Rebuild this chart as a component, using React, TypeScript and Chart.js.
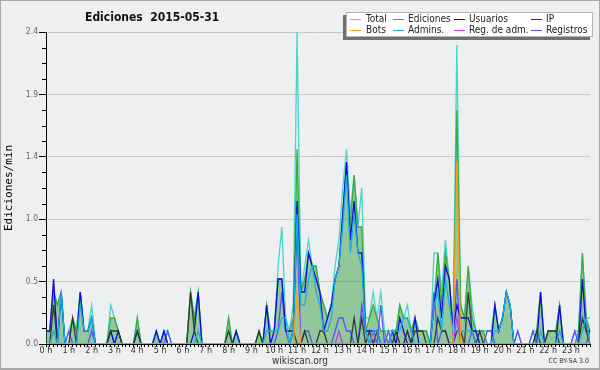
import React, { useEffect, useRef } from "react";
import { Chart, registerables } from "chart.js";

Chart.register(...registerables);

// ---------- data (edits per minute, 10-minute slots, 6 per hour) ----------
const slots: string[] = [];
for (let h = 0; h < 24; h++) {
  for (let m = 0; m < 60; m += 10) slots.push(`${h}:${String(m).padStart(2, "0")}`);
}

const hourLabels = [
  "0 h", "1 h", "2 h", "3 h", "4 h", "5 h", "6 h", "7 h", "8 h", "9 h", "10 h", "11 h",
  "12 h", "13 h", "14 h", "15 h", "16 h", "17 h", "18 h", "19 h", "20 h", "21 h", "22 h", "23 h",
];

const yTickValues = [
  0, 0.12, 0.24, 0.36, 0.48, 0.6, 0.72, 0.84, 0.96, 1.08, 1.2,
  1.32, 1.44, 1.56, 1.68, 1.8, 1.92, 2.04, 2.16, 2.28, 2.4,
];

const total = [
  0.1, 0.1, 0.4, 0.3, 0.4, 0, 0.1, 0.2, 0.1, 0.4, 0.1, 0.1,
  0.3, 0, 0, 0, 0, 0.3, 0.2, 0.1, 0, 0, 0, 0,
  0.2, 0, 0, 0, 0, 0.1, 0, 0.1, 0.1, 0, 0, 0,
  0, 0, 0.4, 0.2, 0.4, 0, 0, 0, 0, 0, 0, 0,
  0.2, 0, 0.1, 0, 0, 0, 0, 0, 0.1, 0, 0.3, 0.1,
  0.1, 0.6, 0.9, 0.2, 0.1, 0.3, 2.4, 0.4, 0.6, 0.8, 0.6, 0.6,
  0.4, 0.3, 0.2, 0.3, 0.6, 0.8, 1.2, 1.5, 1.0, 1.3, 0.9, 1.2,
  0.2, 0.2, 0.4, 0.2, 0.4, 0.1, 0.1, 0.1, 0.1, 0.3, 0.2, 0.3,
  0.1, 0.2, 0.1, 0.1, 0.1, 0, 0.7, 0.7, 0.4, 0.8, 0.5, 0.1,
  2.3, 0.3, 0.2, 0.6, 0.3, 0.1, 0.1, 0.1, 0.1, 0.1, 0.3, 0.1,
  0.2, 0.4, 0.3, 0, 0.1, 0, 0, 0, 0.1, 0.1, 0.4, 0,
  0.1, 0.1, 0.1, 0.3, 0, 0, 0, 0.1, 0.1, 0.7, 0.2, 0.2,
];

const ediciones = [
  0.1, 0.1, 0.4, 0.3, 0.4, 0, 0, 0.2, 0.1, 0.4, 0.1, 0.1,
  0.2, 0, 0, 0, 0, 0.2, 0.2, 0.1, 0, 0, 0, 0,
  0.2, 0, 0, 0, 0, 0.1, 0, 0.1, 0, 0, 0, 0,
  0, 0, 0.4, 0.2, 0.4, 0, 0, 0, 0, 0, 0, 0,
  0.2, 0, 0.1, 0, 0, 0, 0, 0, 0.1, 0, 0.3, 0.1,
  0.1, 0.5, 0.5, 0.1, 0.1, 0.2, 1.5, 0.4, 0.5, 0.7, 0.6, 0.6,
  0.4, 0.3, 0.2, 0.3, 0.5, 0.6, 1.0, 1.4, 0.9, 1.3, 0.9, 0.9,
  0.1, 0.2, 0.3, 0.2, 0.1, 0.1, 0, 0.1, 0.1, 0.3, 0.2, 0.2,
  0.1, 0.2, 0.1, 0.1, 0.1, 0, 0.3, 0.7, 0.3, 0.7, 0.5, 0.1,
  1.8, 0.3, 0.2, 0.6, 0.2, 0.1, 0.1, 0.1, 0, 0, 0.3, 0.1,
  0.2, 0.4, 0.3, 0, 0, 0, 0, 0, 0, 0.1, 0.4, 0,
  0.1, 0.1, 0.1, 0.3, 0, 0, 0, 0, 0.1, 0.7, 0.2, 0.1,
];

const usuarios = [
  0.1, 0.1, 0.5, 0, 0.4, 0, 0, 0, 0, 0.4, 0.1, 0.1,
  0.2, 0, 0, 0, 0, 0.1, 0, 0.1, 0, 0, 0, 0,
  0.1, 0, 0, 0, 0, 0.1, 0, 0.1, 0, 0, 0, 0,
  0, 0, 0, 0.1, 0.4, 0, 0, 0, 0, 0, 0, 0,
  0, 0, 0.1, 0, 0, 0, 0, 0, 0, 0, 0.3, 0,
  0.1, 0.5, 0.5, 0.1, 0.1, 0.1, 1.1, 0.4, 0.4, 0.7, 0.6, 0.5,
  0.4, 0.1, 0.2, 0.3, 0.5, 0.6, 1.0, 1.4, 0.8, 1.1, 0.7, 0.7,
  0.1, 0.1, 0.1, 0.1, 0, 0, 0, 0.1, 0, 0.2, 0.1, 0,
  0, 0.2, 0, 0, 0, 0, 0.3, 0.5, 0.2, 0.6, 0.5, 0.1,
  0.3, 0.2, 0.2, 0.2, 0.1, 0.1, 0, 0, 0, 0, 0.3, 0.1,
  0.2, 0.4, 0.3, 0, 0, 0, 0, 0, 0, 0, 0.4, 0,
  0, 0, 0, 0.3, 0, 0, 0, 0, 0, 0.5, 0.1, 0.1,
];

const ip = [
  0, 0, 0.3, 0, 0, 0, 0, 0.2, 0, 0, 0, 0,
  0, 0, 0, 0, 0, 0.1, 0.1, 0.1, 0, 0, 0, 0,
  0.1, 0, 0, 0, 0, 0, 0, 0, 0, 0, 0, 0,
  0, 0, 0.4, 0.1, 0, 0, 0, 0, 0, 0, 0, 0,
  0.1, 0, 0, 0, 0, 0, 0, 0, 0.1, 0, 0, 0,
  0, 0, 0, 0, 0, 0.1, 0, 0, 0.1, 0, 0, 0,
  0.1, 0.1, 0, 0, 0, 0, 0, 0, 0, 0.2, 0, 0.2,
  0, 0.1, 0, 0.1, 0, 0, 0, 0, 0.1, 0, 0, 0.1,
  0, 0.1, 0.1, 0.1, 0, 0, 0, 0.2, 0.1, 0.1, 0, 0,
  0.1, 0.1, 0, 0.4, 0.1, 0, 0.1, 0, 0, 0, 0, 0,
  0, 0, 0, 0, 0, 0, 0, 0, 0, 0.1, 0, 0,
  0.1, 0.1, 0.1, 0, 0, 0, 0, 0, 0, 0.2, 0.1, 0,
];

const bots = [
  0, 0, 0, 0, 0, 0, 0, 0, 0, 0, 0, 0,
  0, 0, 0, 0, 0, 0, 0, 0, 0, 0, 0, 0,
  0, 0, 0, 0, 0, 0, 0, 0, 0, 0, 0, 0,
  0, 0, 0, 0, 0, 0, 0, 0, 0, 0, 0, 0,
  0, 0, 0, 0, 0, 0, 0, 0, 0, 0, 0, 0,
  0, 0, 0, 0, 0, 0, 0.4, 0, 0, 0, 0, 0,
  0, 0, 0, 0, 0, 0, 0, 0, 0, 0, 0, 0,
  0, 0, 0, 0, 0, 0, 0, 0, 0, 0, 0, 0,
  0, 0, 0, 0, 0, 0, 0, 0, 0, 0, 0, 0,
  1.4, 0, 0, 0, 0, 0, 0, 0, 0, 0, 0, 0,
  0, 0, 0, 0, 0, 0, 0, 0, 0, 0, 0, 0,
  0, 0, 0, 0, 0, 0, 0, 0, 0, 0, 0, 0,
];

const admins = [
  0, 0, 0.1, 0, 0.4, 0, 0, 0, 0, 0.3, 0.1, 0.1,
  0.2, 0, 0, 0, 0, 0, 0, 0, 0, 0, 0, 0,
  0, 0, 0, 0, 0, 0, 0, 0, 0, 0, 0, 0,
  0, 0, 0, 0, 0.1, 0, 0, 0, 0, 0, 0, 0,
  0, 0, 0, 0, 0, 0, 0, 0, 0, 0, 0.1, 0.1,
  0.1, 0.1, 0.2, 0.2, 0, 0.1, 1.0, 0.3, 0.3, 0.5, 0.6, 0.4,
  0.3, 0.1, 0.1, 0.2, 0.5, 0.6, 0.9, 1.3, 0.7, 1.0, 0.7, 0.6,
  0.1, 0, 0.1, 0.1, 0, 0, 0, 0.1, 0.1, 0.1, 0.2, 0.2,
  0.1, 0, 0, 0, 0, 0, 0.3, 0.4, 0.1, 0.5, 0.3, 0.1,
  0.1, 0.1, 0.1, 0.1, 0.1, 0, 0, 0, 0, 0, 0.1, 0.1,
  0.2, 0.4, 0.3, 0, 0, 0, 0, 0, 0, 0, 0.1, 0,
  0, 0, 0, 0.1, 0, 0, 0, 0, 0, 0.1, 0.2, 0,
];

const regAdm = [
  0, 0, 0, 0, 0, 0, 0, 0, 0, 0, 0, 0,
  0, 0, 0, 0, 0, 0, 0, 0, 0, 0, 0, 0,
  0, 0, 0, 0, 0, 0, 0, 0, 0, 0, 0, 0,
  0, 0, 0, 0, 0, 0, 0, 0, 0, 0, 0, 0,
  0, 0, 0, 0, 0, 0, 0, 0, 0, 0, 0, 0,
  0, 0, 0, 0, 0, 0, 0, 0, 0, 0, 0, 0,
  0, 0, 0, 0, 0, 0.1, 0, 0, 0, 0, 0, 0,
  0, 0, 0.1, 0, 0, 0, 0, 0, 0, 0, 0, 0,
  0, 0, 0, 0, 0, 0, 0, 0, 0, 0, 0, 0,
  0.2, 0, 0, 0, 0, 0, 0, 0, 0, 0, 0, 0,
  0, 0, 0, 0, 0, 0, 0, 0, 0, 0, 0, 0,
  0, 0, 0, 0, 0, 0, 0, 0, 0, 0, 0, 0,
];

const registros = [
  0, 0, 0, 0, 0, 0, 0.1, 0, 0, 0, 0, 0,
  0.1, 0, 0, 0, 0, 0.1, 0, 0, 0, 0, 0, 0,
  0, 0, 0, 0, 0, 0, 0, 0, 0.1, 0, 0, 0,
  0, 0, 0, 0, 0, 0, 0, 0, 0, 0, 0, 0,
  0, 0, 0, 0, 0, 0, 0, 0, 0, 0, 0, 0,
  0, 0.1, 0.4, 0.1, 0, 0.1, 0.9, 0, 0.1, 0.1, 0, 0,
  0, 0, 0, 0, 0.1, 0.2, 0.2, 0.1, 0.1, 0, 0, 0.3,
  0.1, 0, 0.1, 0, 0.3, 0, 0.1, 0, 0, 0, 0, 0.1,
  0, 0, 0, 0, 0, 0, 0.4, 0, 0.1, 0.1, 0, 0,
  0.5, 0, 0, 0, 0.1, 0, 0, 0, 0.1, 0.1, 0, 0,
  0, 0, 0, 0, 0.1, 0, 0, 0, 0.1, 0, 0, 0,
  0, 0, 0, 0, 0, 0, 0, 0.1, 0, 0, 0, 0.1,
];

// ---------- styling ----------
const BG = "#eeeff0";
const SANS = '"DejaVu Sans Condensed", "Liberation Sans", "DejaVu Sans", sans-serif';
const MONO = '"DejaVu Sans Mono", monospace';

const COLORS = {
  total: "#45d6c8",
  ediciones: "#3aae3a",
  edicionesFill: "rgba(30,150,40,0.44)",
  usuarios: "#0a0ae8",
  ip: "#323832",
  bots: "#ff9a1a",
  admins: "#18b0e4",
  regAdm: "#c838ec",
  registros: "#5252ff",
};

const isMajor = (v: number) => Math.round(v * 100) % 48 === 0;

const minorTicks = {
  id: "minorTicks",
  afterDraw(chart: any) {
    const y = chart.scales.y;
    const ctx = chart.ctx;
    ctx.save();
    ctx.strokeStyle = "#000";
    ctx.lineWidth = 1;
    yTickValues.forEach((v) => {
      if (isMajor(v)) return;
      const py = Math.round(y.getPixelForValue(v)) + 0.5;
      ctx.beginPath();
      ctx.moveTo(y.right - 4, py);
      ctx.lineTo(y.right, py);
      ctx.stroke();
    });
    ctx.restore();
  },
};

const legendItems = [
  { label: "Total", color: COLORS.total, sx: 350, tx: 366, row: 0 },
  { label: "Ediciones", color: COLORS.ediciones, sx: 393, tx: 408, row: 0 },
  { label: "Usuarios", color: COLORS.usuarios, sx: 454, tx: 469, row: 0 },
  { label: "IP", color: COLORS.ip, sx: 531, tx: 546, row: 0 },
  { label: "Bots", color: COLORS.bots, sx: 350, tx: 366, row: 1 },
  { label: "Admins.", color: COLORS.admins, sx: 393, tx: 408, row: 1 },
  { label: "Reg. de adm.", color: COLORS.regAdm, sx: 454, tx: 469, row: 1 },
  { label: "Registros", color: COLORS.registros, sx: 531, tx: 546, row: 1 },
];

function line(label: string, data: number[], color: string, order: number, extra: any = {}) {
  return {
    label,
    data,
    borderColor: color,
    backgroundColor: color,
    borderWidth: 1.3,
    pointRadius: 0,
    pointHoverRadius: 0,
    tension: 0,
    fill: false,
    order,
    ...extra,
  };
}

export default function App() {
  const ref = useRef<HTMLCanvasElement>(null);

  useEffect(() => {
    const canvas = ref.current;
    if (!canvas) return;
    const chart = new Chart(canvas, {
      type: "line",
      data: {
        labels: slots,
        datasets: [
          line("Bots", bots, COLORS.bots, 1),
          line("Admins.", admins, COLORS.admins, 2),
          line("Reg. de adm.", regAdm, COLORS.regAdm, 3),
          line("IP", ip, COLORS.ip, 4),
          line("Usuarios", usuarios, COLORS.usuarios, 5),
          line("Registros", registros, COLORS.registros, 6),
          line("Ediciones", ediciones, COLORS.ediciones, 7, {
            fill: "origin",
            backgroundColor: COLORS.edicionesFill,
          }),
          line("Total", total, COLORS.total, 8),
        ],
      },
      options: {
        responsive: false,
        animation: false,
        devicePixelRatio: 1,
        events: [],
        layout: { padding: { left: 0, right: 10, top: 32, bottom: 0 } },
        plugins: {
          legend: { display: false },
          tooltip: { enabled: false },
          title: { display: false },
        },
        scales: {
          x: {
            type: "category",
            offset: false,
            grid: {
              offset: false,
              drawOnChartArea: false,
              drawTicks: true,
              tickLength: 3,
              tickColor: "#000",
            },
            border: { color: "#000", width: 1 },
            ticks: {
              autoSkip: false,
              maxRotation: 0,
              minRotation: 0,
              padding: -2,
              color: "#333",
              font: { family: SANS, size: 9 },
              callback: (_v: any, i: number) => (i % 6 === 0 ? hourLabels[i / 6] : ""),
            },
            afterFit: (s: any) => {
              s.height = 26;
            },
          },
          y: {
            min: 0,
            max: 2.4,
            afterBuildTicks: (s: any) => {
              s.ticks = yTickValues.map((v) => ({ value: v }));
            },
            grid: {
              color: (ctx: any) =>
                ctx.tick && isMajor(ctx.tick.value) && ctx.tick.value > 0 ? "#c9c9c9" : "rgba(0,0,0,0)",
              tickColor: (ctx: any) => (ctx.tick && isMajor(ctx.tick.value) ? "#000" : "rgba(0,0,0,0)"),
              tickLength: 7,
              lineWidth: 1,
            },
            border: { color: "#000", width: 1 },
            ticks: {
              autoSkip: false,
              padding: 1,
              color: "#666",
              font: { family: SANS, size: 8.5 },
              callback: (v: any) => (isMajor(Number(v)) ? Number(v).toFixed(1) : ""),
            },
            title: {
              display: true,
              text: "Ediciones/min",
              color: "#000",
              font: { family: MONO, size: 11 },
              padding: { top: 3, bottom: 0 },
            },
            afterFit: (s: any) => {
              s.width = 46;
            },
          },
        },
      } as any,
      plugins: [minorTicks],
    });
    return () => chart.destroy();
  }, []);

  return (
    <div
      style={{
        position: "fixed",
        left: 0,
        top: 0,
        width: 600,
        height: 370,
        background: BG,
        overflow: "hidden",
      }}
    >
      <canvas
        ref={ref}
        width={600}
        height={370}
        style={{ position: "absolute", left: 0, top: 0, width: 600, height: 370 }}
      />
      <div
        style={{
          position: "absolute",
          left: 85,
          top: 9.5,
          font: `bold 12px ${SANS}`,
          lineHeight: "14px",
          color: "#111",
          whiteSpace: "pre",
        }}
      >
        {"Ediciones  2015-05-31"}
      </div>
      <div
        style={{
          position: "absolute",
          left: 346,
          top: 12,
          width: 247,
          height: 25,
          boxSizing: "border-box",
          background: "#fff",
          border: "1px solid #b4b4b4",
          boxShadow: "-3px 3px 0 #707070",
        }}
      />
      {legendItems.map((it) => {
        const cy = it.row === 0 ? 19 : 29.5;
        return (
          <React.Fragment key={it.label}>
            <div
              style={{
                position: "absolute",
                left: it.sx,
                top: Math.round(cy),
                width: 11,
                height: 1,
                background: it.color,
              }}
            />
            <div
              style={{
                position: "absolute",
                left: it.tx,
                top: it.row === 0 ? 13.2 : 23.8,
                font: `10px ${SANS}`,
                lineHeight: "12px",
                color: "#222",
                whiteSpace: "pre",
              }}
            >
              {it.label}
            </div>
          </React.Fragment>
        );
      })}
      <div
        style={{
          position: "absolute",
          left: 250,
          width: 100,
          top: 354.5,
          textAlign: "center",
          font: `10px ${SANS}`,
          lineHeight: "12px",
          color: "#333",
        }}
      >
        wikiscan.org
      </div>
      <div
        style={{
          position: "absolute",
          right: 11,
          top: 357,
          font: `7px ${SANS}`,
          lineHeight: "9px",
          color: "#333",
          whiteSpace: "pre",
        }}
      >
        CC BY-SA 3.0
      </div>
      <div
        style={{
          position: "absolute",
          left: 0,
          top: 0,
          width: 600,
          height: 370,
          boxSizing: "border-box",
          borderTop: "1px solid #a8a8a8",
          borderLeft: "1px solid #a8a8a8",
          borderRight: "1px solid #a8a8a8",
          borderBottom: "2px solid #a8a8a8",
          pointerEvents: "none",
        }}
      />
    </div>
  );
}
